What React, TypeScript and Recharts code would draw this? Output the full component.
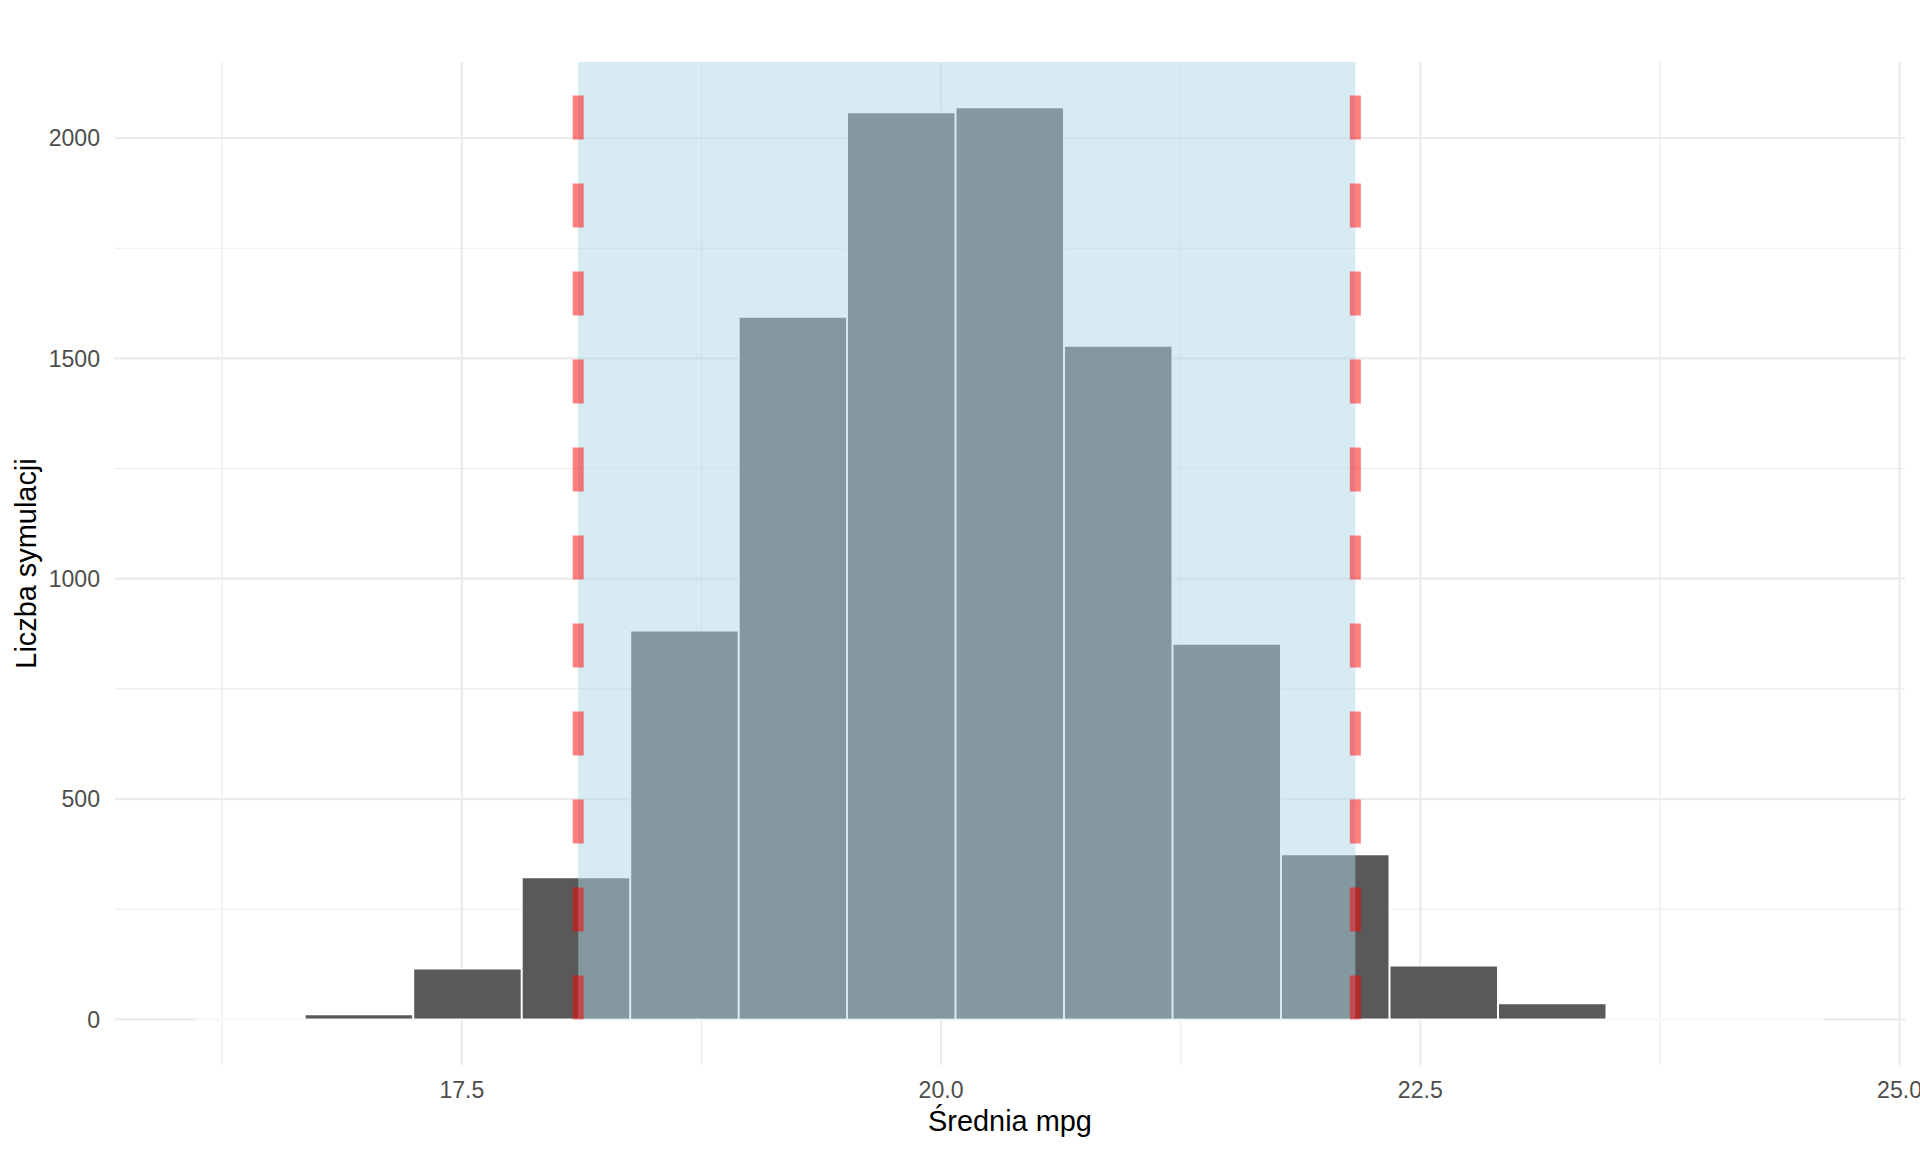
import React from "react";
import {
  ComposedChart,
  Bar,
  XAxis,
  YAxis,
  CartesianGrid,
  ReferenceArea,
  ReferenceLine,
  Label,
} from "recharts";

// Histogram bins (centres) and counts of simulated means
const binMids = [
  16.398, 16.964, 17.53, 18.096, 18.662, 19.228, 19.793, 20.359, 20.925,
  21.491, 22.057, 22.623, 23.189, 23.755, 24.321,
];
const counts = [0, 11, 115, 322, 882, 1594, 2058, 2069, 1528, 852, 374, 122, 36, 0, 0];

// Confidence interval bounds
const ciLower = 18.107;
const ciUpper = 22.161;

// Ticks
const xTicks = [17.5, 20.0, 22.5, 25.0];
const xMinor = [16.25, 18.75, 21.25, 23.75];
const yTicks = [0, 500, 1000, 1500, 2000];
const yMinor = [250, 750, 1250, 1750];

const xTitle = "Średnia mpg";
const yTitle = "Liczba symulacji";

const data = binMids.map((mid, i) => ({ mid, count: counts[i] }));

const binWidth = binMids[1] - binMids[0];
const xMin = binMids[0] - binWidth / 2;
const xMax = binMids[binMids.length - 1] + binWidth / 2;
const xPad = (xMax - xMin) * 0.05;
const xDomain = [xMin - xPad, xMax + xPad];
const yMaxVal = Math.max(...counts);
const yDomain = [-yMaxVal * 0.05, yMaxVal * 1.05];

const FONT = "'Liberation Sans', Arial, sans-serif";
const GRID = "#ebebeb";

export default function App() {
  return (
    <div style={{ position: "absolute", left: 0, top: 0, width: 1920, height: 1152, background: "#fff" }}>
      <ComposedChart
        width={1920}
        height={1152}
        data={data}
        margin={{ top: 62, right: 15, bottom: 0, left: 0 }}
        barCategoryGap={0}
        barGap={0}
        style={{ fontFamily: FONT }}
      >
        <CartesianGrid
          stroke={GRID}
          strokeWidth={1.1}
          verticalValues={xMinor}
          horizontalValues={yMinor}
          fill="none"
        />
        <CartesianGrid
          stroke={GRID}
          strokeWidth={2.2}
          verticalValues={xTicks}
          horizontalValues={yTicks}
          fill="none"
        />
        <XAxis
          dataKey="mid"
          type="number"
          domain={xDomain}
          ticks={xTicks}
          interval={0}
          allowDataOverflow
          axisLine={false}
          tickLine={false}
          tickSize={0}
          tickMargin={17}
          height={87}
          tickFormatter={(v) => Number(v).toFixed(1)}
          tick={{ fill: "#4d4d4d", fontSize: 23.1, fontFamily: FONT }}
        >
          <Label
            content={(p: any) => {
              const vb = p.viewBox || { x: 115, y: 1065, width: 1790, height: 87 };
              const cx = vb.x + vb.width / 2;
              return (
                <text x={cx} y={vb.y + 66} textAnchor="middle" fontSize={28.9} fill="#000" fontFamily={FONT}>
                  {xTitle}
                </text>
              );
            }}
          />
        </XAxis>
        <YAxis
          type="number"
          domain={yDomain}
          ticks={yTicks}
          interval={0}
          allowDataOverflow
          axisLine={false}
          tickLine={false}
          tickSize={0}
          tickMargin={15}
          width={115}
          tick={{ fill: "#4d4d4d", fontSize: 23.1, fontFamily: FONT }}
        >
          <Label
            content={(p: any) => {
              const vb = p.viewBox || { x: 0, y: 62, width: 115, height: 1003 };
              const cy = vb.y + vb.height / 2;
              const tx = 36;
              return (
                <text
                  x={tx}
                  y={cy}
                  transform={`rotate(-90, ${tx}, ${cy})`}
                  textAnchor="middle"
                  fontSize={28.9}
                  fill="#000"
                  fontFamily={FONT}
                >
                  {yTitle}
                </text>
              );
            }}
          />
        </YAxis>
        <Bar
          dataKey="count"
          fill="#595959"
          stroke="#ffffff"
          strokeWidth={1.5}
          isAnimationActive={false}
        />
        <ReferenceLine
          segment={[
            { x: xMin, y: 0 },
            { x: xMax, y: 0 },
          ]}
          stroke="#ffffff"
          strokeWidth={1.5}
          ifOverflow="visible"
          zIndex={310}
        />
        <ReferenceArea
          x1={ciLower}
          x2={ciUpper}
          y1={0}
          y2={yDomain[1]}
          fill="#add8e6"
          fillOpacity={0.5}
          stroke="none"
          ifOverflow="visible"
          zIndex={350}
        />
        <ReferenceLine
          segment={[
            { x: ciLower, y: 0 },
            { x: ciLower, y: yDomain[1] },
          ]}
          stroke="#ff0000"
          strokeOpacity={0.5}
          strokeWidth={11}
          strokeDasharray="44 44"
          ifOverflow="visible"
          zIndex={360}
        />
        <ReferenceLine
          segment={[
            { x: ciUpper, y: 0 },
            { x: ciUpper, y: yDomain[1] },
          ]}
          stroke="#ff0000"
          strokeOpacity={0.5}
          strokeWidth={11}
          strokeDasharray="44 44"
          ifOverflow="visible"
          zIndex={360}
        />
      </ComposedChart>
    </div>
  );
}
